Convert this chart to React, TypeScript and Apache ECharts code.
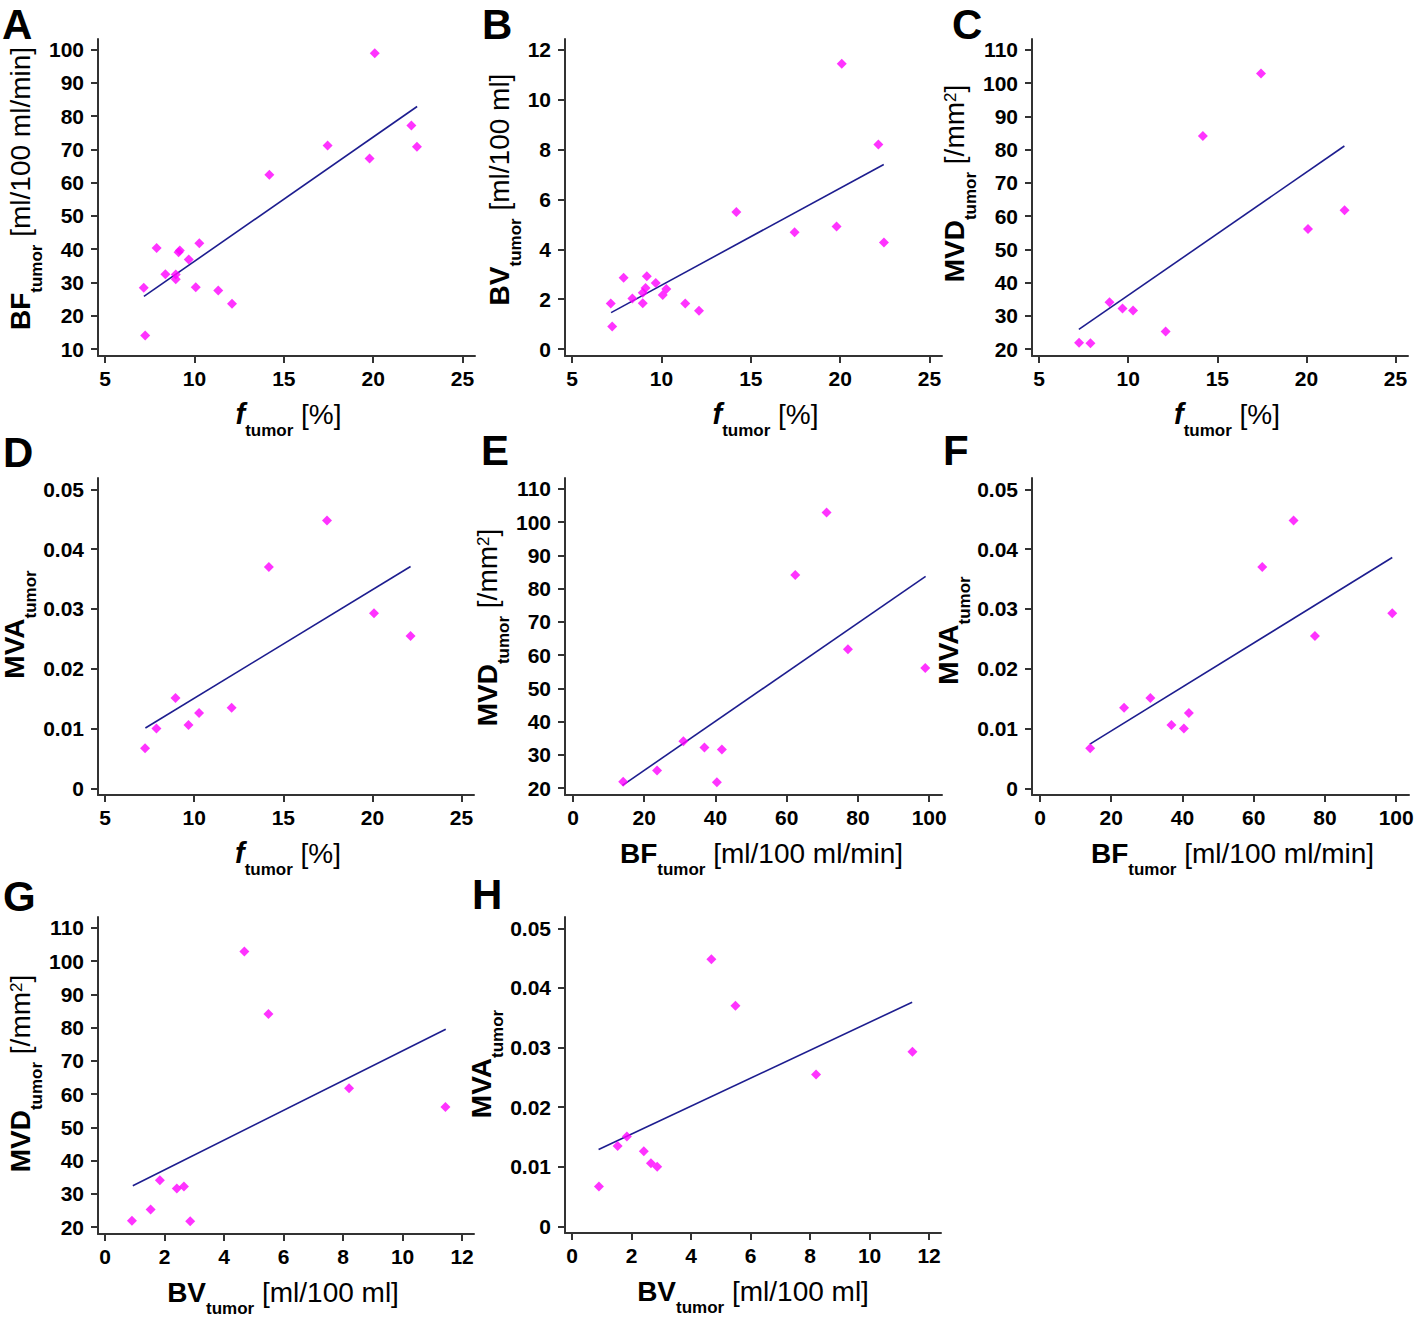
import React, { useEffect, useRef } from "react";
import * as echarts from "echarts";

// ---- Data (one entry per patient; null = not measured) ----
const fTumor = [7.16, 7.24, 7.88, 8.37, 8.95, 8.95, 9.11, 9.18, 9.68, 10.07, 10.27, 11.33, 12.1, 14.19, 17.45, 19.8, 20.09, 22.14, 22.45];
const bfTumor = [28.4, 14.1, 40.4, 32.5, 32.4, 31.0, 39.1, 39.6, 36.9, 28.6, 41.8, 27.6, 23.6, 62.4, 71.2, 67.3, 98.9, 77.2, 70.8];
const bvTumor = [1.82, 0.9, 2.86, 2.03, 2.26, 1.84, 2.45, 2.92, 2.65, 2.17, 2.41, 1.82, 1.53, 5.49, 4.68, 4.91, 11.44, 8.2, 4.27];
const mvdTumor = [null, 21.9, 21.7, null, null, 34.1, null, null, 32.2, null, 31.6, null, 25.3, 84.1, 102.9, null, 56.1, 61.8, null];
const mvaTumor = [null, 0.0067, 0.01, null, null, 0.0151, null, null, 0.0106, null, 0.0126, null, 0.0135, 0.037, 0.0448, null, 0.0293, 0.0255, null];

// Regression line end points
const trendA = [[7.17, 25.8], [22.46, 82.9]];
const trendB = [[7.18, 1.46], [22.44, 7.4]];
const trendC = [[7.23, 25.9], [22.13, 81.1]];
const trendD = [[7.26, 0.0101], [22.14, 0.0371]];
const trendE = [[13.9, 20.8], [99.0, 83.7]];
const trendF = [[14.0, 0.0074], [98.9, 0.0386]];
const trendG = [[0.93, 32.4], [11.45, 79.5]];
const trendH = [[0.89, 0.0129], [11.43, 0.0376]];

// Tick labels
const fTicks = [5, 10, 15, 20, 25];
const bfXTicks = [0, 20, 40, 60, 80, 100];
const bvXTicks = [0, 2, 4, 6, 8, 10, 12];
const bfYTicks = [10, 20, 30, 40, 50, 60, 70, 80, 90, 100];
const bvYTicks = [0, 2, 4, 6, 8, 10, 12];
const mvdYTicks = [20, 30, 40, 50, 60, 70, 80, 90, 100, 110];
const mvaYTicks = [0, 0.01, 0.02, 0.03, 0.04, 0.05];

const FONT = "'Liberation Sans', Arial, Helvetica, sans-serif";

const xDefs: any = {
  f: { min: 4.6, max: 25.7, ticks: fTicks, name: "{i|f}{s|tumor}{n| [%]}" },
  bf: { min: -2.24, max: 103.6, ticks: bfXTicks, name: "{b|BF}{s|tumor}{n| [ml/100 ml/min]}" },
  bv: { min: -0.24, max: 12.4, ticks: bvXTicks, name: "{b|BV}{s|tumor}{n| [ml/100 ml]}" },
};
const yDefs: any = {
  bf: { min: 7.9, max: 103.2, ticks: bfYTicks, name: "{b|BF}{s|tumor}{n| [ml/100 ml/min]}" },
  bv: { min: -0.28, max: 12.43, ticks: bvYTicks, name: "{b|BV}{s|tumor}{n| [ml/100 ml]}" },
  mvd: { min: 17.9, max: 113.3, ticks: mvdYTicks, name: "{b|MVD}{s|tumor}{n| [/mm}{sup|2}{n|]}" },
  mva: { min: -0.0011, max: 0.0519, ticks: mvaYTicks, name: "{b|MVA}{s|tumor}" },
};

const panels: any[] = [
  { id: "A", xs: fTumor, ys: bfTumor, xk: "f", yk: "bf", trend: trendA, g: [98, 39, 377, 317], letter: [2, 3], xShift: 2, yUp: 9, yGap: 48 },
  { id: "B", xs: fTumor, ys: bvTumor, xk: "f", yk: "bv", trend: trendB, g: [565, 39, 377, 317], letter: [482, 3], xShift: 12, yUp: 8, yGap: 41 },
  { id: "C", xs: fTumor, ys: mvdTumor, xk: "f", yk: "mvd", trend: trendC, g: [1032, 39, 376, 317], letter: [952, 3], xShift: 7, yUp: 14, yGap: 47 },
  { id: "D", xs: fTumor, ys: mvaTumor, xk: "f", yk: "mva", trend: trendD, g: [98, 478, 376, 317], letter: [3, 431], xShift: 2, yUp: 12, yGap: 60 },
  { id: "E", xs: bfTumor, ys: mvdTumor, xk: "bf", yk: "mvd", trend: trendE, g: [565, 478, 377, 317], letter: [481, 429], xShift: 8, yUp: 9, yGap: 49 },
  { id: "F", xs: bfTumor, ys: mvaTumor, xk: "bf", yk: "mva", trend: trendF, g: [1032, 478, 377, 317], letter: [943, 429], xShift: 12, yUp: 6, yGap: 57 },
  { id: "G", xs: bvTumor, ys: mvdTumor, xk: "bv", yk: "mvd", trend: trendG, g: [98, 917, 376, 317], letter: [3, 875], xShift: -3, yUp: 2, yGap: 48 },
  { id: "H", xs: bvTumor, ys: mvaTumor, xk: "bv", yk: "mva", trend: trendH, g: [565, 917, 376, 316], letter: [472, 873], xShift: 0, yUp: 11, yGap: 59 },
];

const rich: any = {
  b: { fontFamily: FONT, fontSize: 28, fontWeight: "bold", color: "#000", lineHeight: 34 },
  i: { fontFamily: FONT, fontSize: 29, fontWeight: "bold", fontStyle: "italic", color: "#000", lineHeight: 34 },
  n: { fontFamily: FONT, fontSize: 28, color: "#000", lineHeight: 34 },
  s: { fontFamily: FONT, fontSize: 17, fontWeight: "bold", color: "#000", lineHeight: 17, padding: [32, 0, 0, 0] },
  sup: { fontFamily: FONT, fontSize: 17, color: "#000", lineHeight: 17, padding: [0, 0, 8, 0] },
};

function pairs(xs: (number | null)[], ys: (number | null)[]) {
  const out: number[][] = [];
  for (let i = 0; i < xs.length; i++) {
    if (xs[i] != null && ys[i] != null) out.push([xs[i] as number, ys[i] as number]);
  }
  return out;
}

const AXIS_COLOR = "#333";

function buildOption() {
  const grid: any[] = [];
  const xAxis: any[] = [];
  const yAxis: any[] = [];
  const series: any[] = [];
  const graphic: any[] = [];
  panels.forEach((p, idx) => {
    grid.push({ left: p.g[0], top: p.g[1], width: p.g[2], height: p.g[3], containLabel: false, outerBoundsMode: "none" });
    const xd = xDefs[p.xk];
    const yd = yDefs[p.yk];
    const xPad = p.xShift >= 0 ? [0, 0, 0, 2 * p.xShift] : [0, -2 * p.xShift, 0, 0];
    xAxis.push({
      type: "value",
      gridIndex: idx,
      min: xd.min,
      max: xd.max,
      axisLine: { show: true, onZero: false, lineStyle: { color: AXIS_COLOR, width: 2 } },
      axisTick: { show: true, customValues: xd.ticks, length: 7, lineStyle: { color: AXIS_COLOR, width: 2 } },
      axisLabel: {
        customValues: xd.ticks,
        margin: 12,
        color: "#000",
        fontFamily: FONT,
        fontSize: 21,
        fontWeight: "bold",
        formatter: (v: number) => String(v),
      },
      splitLine: { show: false },
      name: xd.name,
      nameLocation: "middle",
      nameGap: 35,
      nameTextStyle: { rich, padding: xPad },
    });
    yAxis.push({
      type: "value",
      gridIndex: idx,
      min: yd.min,
      max: yd.max,
      axisLine: { show: true, onZero: false, lineStyle: { color: AXIS_COLOR, width: 2 } },
      axisTick: { show: true, customValues: yd.ticks, length: 7, lineStyle: { color: AXIS_COLOR, width: 2 } },
      axisLabel: {
        customValues: yd.ticks,
        margin: 14,
        color: "#000",
        fontFamily: FONT,
        fontSize: 21,
        fontWeight: "bold",
        formatter: (v: number) => String(v),
      },
      splitLine: { show: false },
      name: yd.name,
      nameLocation: "middle",
      nameRotate: 90,
      nameGap: p.yGap,
      nameTextStyle: { rich, padding: [0, 0, 0, 2 * p.yUp] },
    });
    series.push({
      type: "line",
      xAxisIndex: idx,
      yAxisIndex: idx,
      data: p.trend,
      showSymbol: false,
      symbol: "none",
      lineStyle: { color: "#1d1d8f", width: 1.6 },
      z: 2,
      silent: true,
    });
    series.push({
      type: "scatter",
      xAxisIndex: idx,
      yAxisIndex: idx,
      data: pairs(p.xs, p.ys),
      symbol: "diamond",
      symbolSize: 10,
      itemStyle: { color: "#ff00ff" },
      z: 3,
      silent: true,
    });
    graphic.push({
      type: "text",
      x: p.letter[0],
      y: p.letter[1],
      style: { text: p.id, fontFamily: FONT, fontSize: 42, fontWeight: "bold", fill: "#000", verticalAlign: "top" },
    });
  });
  return { animation: false, backgroundColor: "#fff", grid, xAxis, yAxis, series, graphic };
}

export default function App() {
  const ref = useRef<HTMLDivElement>(null);
  useEffect(() => {
    if (!ref.current) return;
    const chart = echarts.init(ref.current, undefined, { renderer: "svg" });
    chart.setOption(buildOption() as any);
    return () => chart.dispose();
  }, []);
  return (
    <div
      ref={ref}
      style={{ position: "absolute", left: 0, top: 0, width: 1418, height: 1317, background: "#fff" }}
    />
  );
}
